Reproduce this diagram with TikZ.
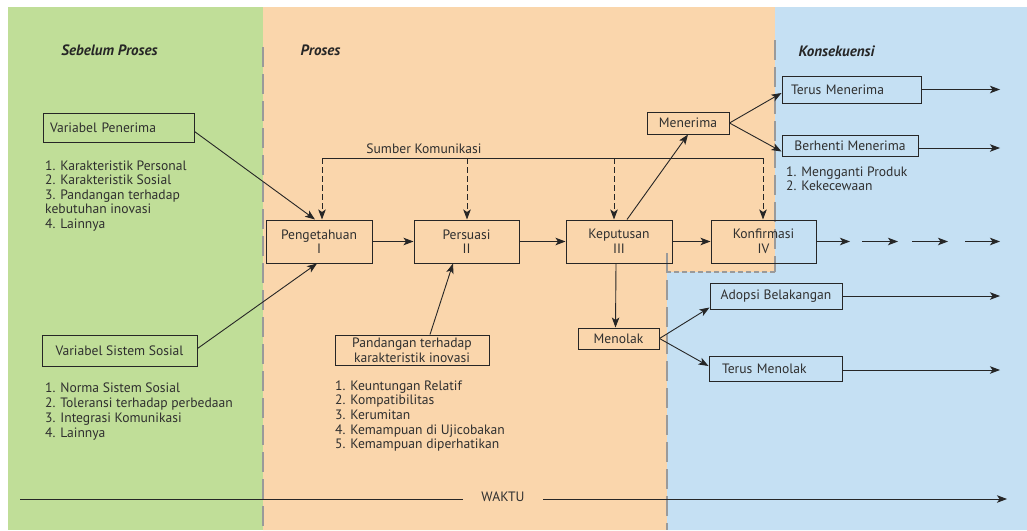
\documentclass[tikz,border=0pt]{standalone}
\usepackage{fontspec}
\setmainfont{PT Sans}
\usetikzlibrary{arrows.meta}
\definecolor{phasegreen}{HTML}{C0DE98}
\definecolor{phasepeach}{HTML}{FAD6AC}
\definecolor{phaseblue}{HTML}{C5E0F3}
\definecolor{ink}{HTML}{262626}
\definecolor{txt}{HTML}{2F2F2F}
\definecolor{divider}{HTML}{9A9A9A}
\begin{document}
\begin{tikzpicture}[x=1pt,y=-1pt,
  every node/.style={font=\fontsize{13.6}{14.6}\selectfont, text=txt},
  box/.style={draw=ink, line width=1pt, inner sep=0pt},
  heading/.style={font=\fontsize{15}{16}\selectfont\bfseries\itshape, text=ink, inner sep=0pt},
  listtext/.style={anchor=north west, align=left, inner sep=0pt},
  arr/.style={draw=ink, line width=0.9pt, -{Stealth[length=10pt,width=7.5pt,inset=2.5pt]}},
  dasharr/.style={arr, dash pattern=on 6pt off 3pt},
  link/.style={draw=ink, line width=0.9pt},
  phaseline/.style={draw=divider, line width=1.1pt, dash pattern=on 20pt off 7pt},
  phaseline short/.style={draw=divider, line width=1.1pt, dash pattern=on 5pt off 3pt}
]
\useasboundingbox (0,0) rectangle (1027,530);
% phase backgrounds
\fill[white] (0,0) rectangle (1027,530);
\fill[phasegreen] (8,7) rectangle (263,530);
\fill[phasepeach] (263,7) -- (775,7) -- (775,272) -- (667,272) -- (667,530) -- (263,530) -- cycle;
\fill[phaseblue] (775,7) -- (1027,7) -- (1027,530) -- (667,530) -- (667,272) -- (775,272) -- cycle;
% phase dividers
\draw[phaseline] (263,47) -- (263,530);
\draw[phaseline] (775,40) -- (775,272);
\draw[phaseline short] (775,272) -- (667,272);
\draw[phaseline] (667,253) -- (667,530);

% phase headings
\node[heading] (h1) at (109.5,50) {Sebelum Proses};
\node[heading] (h2) at (320.5,50) {Proses};
\node[heading] (h3) at (836.5,51) {Konsekuensi};

% antecedents
\node[box, text width=137pt, inner xsep=7pt, minimum height=29pt, align=left] (vp) at (118.5,127.5) {Variabel Penerima};
\node[listtext] (vplist) at (45,160.2) {1. Karakteristik Personal\\2. Karakteristik Sosial\\3. Pandangan terhadap\\kebutuhan inovasi\\4. Lainnya};
\node[box, minimum width=155pt, minimum height=31pt] (vs) at (119.5,350.5) {Variabel Sistem Sosial};
\node[listtext, font=\fontsize{13.6}{15}\selectfont] (vslist) at (45,382.8) {1. Norma Sistem Sosial\\2. Toleransi terhadap perbedaan\\3. Integrasi Komunikasi\\4. Lainnya};

% process stages
\node[box, minimum width=106pt, minimum height=43pt, align=center] (peng) at (319,241.5) {Pengetahuan\\I};
\node[box, minimum width=105pt, minimum height=43pt, align=center] (pers) at (466.5,241.5) {Persuasi\\II};
\node[box, minimum width=106pt, minimum height=43pt, align=center] (kep) at (619,241.5) {Keputusan\\III};
\node[box, minimum width=105pt, minimum height=43pt, align=center] (konf) at (763.5,241.5) {Konfirmasi\\IV};

\node[box, minimum width=154pt, minimum height=30pt, align=center, font=\fontsize{13.6}{14.6}\selectfont] (pand) at (412,350) {Pandangan terhadap\\karakteristik inovasi};
\node[listtext] (pandlist) at (335,380.5) {1. Keuntungan Relatif\\2. Kompatibilitas\\3. Kerumitan\\4. Kemampuan di Ujicobakan\\5. Kemampuan diperhatikan};

\node[box, minimum width=82pt, minimum height=22pt] (men) at (688,123) {Menerima};
\node[box, minimum width=81pt, minimum height=21pt] (mol) at (618.5,338.5) {Menolak};

% consequences
\node[box, text width=129pt, inner xsep=5pt, minimum height=27pt, align=left] (tm) at (851.5,89.5) {\hspace*{4pt}Terus Menerima};
\node[box, minimum width=136pt, minimum height=21pt] (bm) at (850,145.5) {Berhenti Menerima};
\node[listtext, font=\fontsize{13.6}{14}\selectfont] (bmlist) at (786,166.2) {1. Mengganti Produk\\2. Kekecewaan};
\node[box, minimum width=132pt, minimum height=26pt] (ab) at (776,296) {Adopsi Belakangan};
\node[box, text width=123pt, inner xsep=5pt, minimum height=25pt, align=left] (tmol) at (775.5,368.5) {\hspace*{8pt}Terus Menolak};

% communication channels
\node[inner sep=0pt] (sk) at (424,149) {Sumber Komunikasi};
\coordinate (s1) at (322,158);
\coordinate (s2) at (467,158);
\coordinate (s3) at (614,158);
\coordinate (s4) at (763,158);
\draw[link] (s1) -- (s4);
\draw[dasharr] (s1) -- (s1 |- peng.north);
\draw[dasharr] (s2) -- (s2 |- pers.north);
\draw[dasharr] (s3) -- (s3 |- kep.north);
\draw[dasharr] (s4) -- (s4 |- konf.north);

% main flow
\draw[arr] ([yshift=-4pt]vp.east) -- ([xshift=-4pt]peng.north);
\draw[arr] ([yshift=2pt]vs.east) -- ([xshift=-2pt]peng.south);
\draw[arr] (peng.east) -- (pers.west);
\draw[arr] (pers.east) -- (kep.west);
\draw[arr] (kep.east) -- (konf.west);
\draw[arr] ([xshift=18pt]pand.north) -- ([xshift=-13.5pt]pers.south);
\draw[arr] ([xshift=8pt]kep.north) -- (men.south);
\draw[arr] ([xshift=-3pt]kep.south) -- ([xshift=-3pt]mol.north);
\draw[arr] (men.east) -- ([yshift=-3.5pt]tm.west);
\draw[arr] (men.east) -- ([yshift=-6pt]bm.west);
\draw[arr] (mol.east) -- ([yshift=2pt]ab.south west);
\draw[arr] (mol.east) -- ([yshift=2.5pt]tmol.west);

% continuing outcomes
\coordinate (far) at (1000,0);
\draw[arr] (tm.east) -- (tm.east -| far);
\draw[arr] ([yshift=-2.5pt]bm.east) -- ([yshift=-2.5pt]bm.east -| far);
\draw[arr] (ab.east) -- (ab.east -| far);
\draw[arr] ([yshift=-1.5pt]tmol.east) -- ([yshift=-1.5pt]tmol.east -| far);
\coordinate (c1) at (850,241.5);
\coordinate (c2) at (862,241.5);
\coordinate (c3) at (898,241.5);
\coordinate (c4) at (912,241.5);
\coordinate (c5) at (948,241.5);
\coordinate (c6) at (965,241.5);
\coordinate (c7) at (1000,241.5);
\draw[arr] (konf.east) -- (c1);
\draw[arr] (c2) -- (c3);
\draw[arr] (c4) -- (c5);
\draw[arr] (c6) -- (c7);

% time axis
\node[inner xsep=0pt, inner ysep=0pt, minimum width=80pt] (waktu) at (503,497) {WAKTU};
\coordinate (t0) at (20,499);
\coordinate (t1) at (1007,499);
\draw[link] (t0) -- (t0 -| waktu.west);
\draw[arr] (t1 -| waktu.east) -- (t1);
\end{tikzpicture}
\end{document}
